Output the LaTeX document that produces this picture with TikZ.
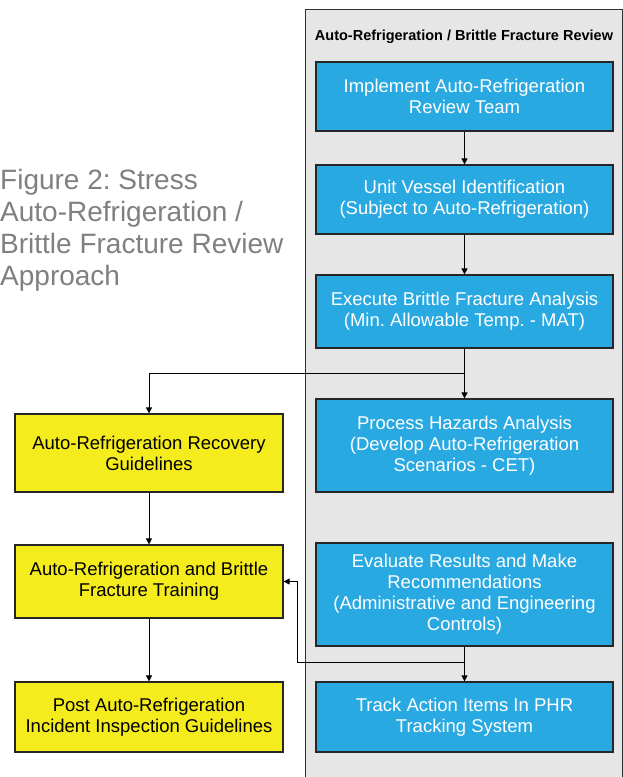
\documentclass[tikz,border=0pt]{standalone}
\usepackage{fontspec}
\setmainfont{Liberation Sans}
\usetikzlibrary{arrows.meta}
\definecolor{boxblue}{RGB}{41,169,225}
\definecolor{boxyellow}{RGB}{245,236,30}
\definecolor{panelgray}{RGB}{230,230,230}
\definecolor{titlegray}{RGB}{128,128,128}
\frenchspacing
\begin{document}
\begin{tikzpicture}[x=1pt,y=-1pt,
  boxbase/.style={draw=black!85, line width=1.2pt, align=center, inner sep=0pt,
    font=\fontsize{18.5}{21}\selectfont},
  bluebox/.style={boxbase, fill=boxblue, text=white, minimum width=297pt},
  yellowbox/.style={boxbase, fill=boxyellow, text=black, minimum width=268pt},
  conn/.style={draw=black, line width=0.8pt},
  arr/.style={conn, -{Triangle[length=6pt,width=6pt]}}]
\useasboundingbox (0,0) rectangle (623,777);
\node (panel) [anchor=north west, fill=panelgray, draw=black!80, line width=0.8pt,
  minimum width=317pt, minimum height=790pt, inner sep=0pt] at (305,9) {};
\node (ptitle) [font=\fontsize{14.5}{17}\selectfont\bfseries, inner sep=0pt] at (464,37)
  {Auto-Refrigeration / Brittle Fracture Review};
\node (title) [anchor=north west, inner sep=0pt, align=left, text=titlegray,
  font=\fontsize{28}{32}\selectfont] at (0,169)
  {Figure 2: Stress\\Auto-Refrigeration /\\Brittle Fracture Review\\Approach};

\node (b1) [bluebox, minimum height=69pt] at (464.5,96.5) {Implement Auto-Refrigeration\\Review Team};
\node (b2) [bluebox, minimum height=69pt] at (464.5,199.5) {Unit Vessel Identification\\(Subject to Auto-Refrigeration)};
\node (b3) [bluebox, minimum height=73pt] at (464.5,311.5) {Execute Brittle Fracture Analysis\\(Min. Allowable Temp. - MAT)};
\node (b4) [bluebox, minimum height=93pt] at (464.5,445.5) {Process Hazards Analysis\\(Develop Auto-Refrigeration\\Scenarios - CET)};
\node (b5) [bluebox, minimum height=103pt] at (464.5,594.5) {Evaluate Results and Make\\Recommendations\\(Administrative and Engineering\\Controls)};
\node (b6) [bluebox, minimum height=70pt] at (464.5,717) {Track Action Items In PHR\\Tracking System};

\node (y1) [yellowbox, minimum height=78pt] at (149,453) {Auto-Refrigeration Recovery\\Guidelines};
\node (y2) [yellowbox, minimum height=73pt] at (149,581.5) {Auto-Refrigeration and Brittle\\Fracture Training};
\node (y3) [yellowbox, minimum height=70pt] at (149,717) {Post Auto-Refrigeration\\Incident Inspection Guidelines};

\draw[arr] (b1) -- (b2);
\draw[arr] (b2) -- (b3);
\coordinate (j1) at (464.5,373);
\draw[conn] (b3.south) -- (j1);
\draw[arr] (j1) -- (b4.north);
\draw[arr] (j1) -| (y1.north);
\draw[arr] (y1) -- (y2);
\draw[arr] (y2) -- (y3);
\coordinate (j2) at (464.5,662);
\coordinate (j2a) at (297,662);
\draw[conn] (b5.south) -- (j2);
\draw[arr] (j2) -- (b6.north);
\draw[arr] (j2) -- (j2a) |- (y2.east);
\end{tikzpicture}
\end{document}
